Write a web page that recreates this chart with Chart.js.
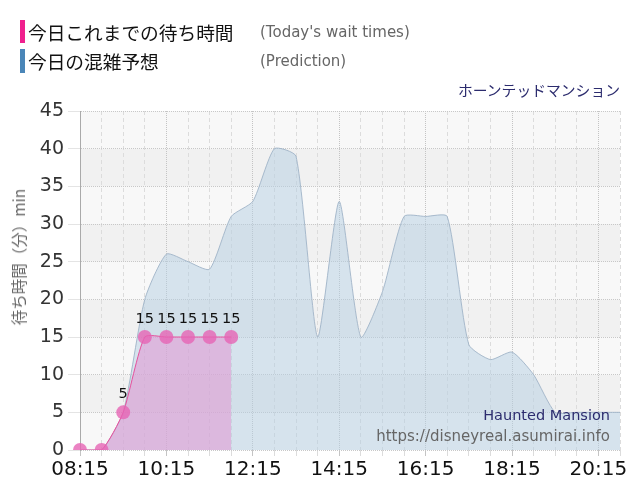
<!DOCTYPE html>
<html>
<head>
<meta charset="utf-8">
<script src="https://cdn.jsdelivr.net/npm/chart.js@4/dist/chart.umd.min.js"></script>
<style>
  body { margin: 0; background: #fff; }
  #wrap { position: relative; width: 640px; height: 500px; overflow: hidden; }
  #wrap canvas { position: absolute; left: 0; top: 0; }
  .bar { position: absolute; width: 5px; }
  .jp { position: absolute; font-family: "Noto Sans CJK JP", sans-serif; white-space: nowrap; }
  .en { position: absolute; font-family: "DejaVu Sans", sans-serif; white-space: nowrap; }
</style>
</head>
<body>
<div id="wrap">
  <canvas id="chart" width="640" height="500"></canvas>
  <div class="bar" style="left:20px;top:20px;height:23px;background:#f0208e"></div>
  <div class="jp" style="left:28px;top:19px;font-size:18.7px;line-height:26px;color:#111">今日これまでの待ち時間</div>
  <div class="en" style="left:260px;top:22px;font-size:15px;line-height:20px;color:#666">(Today's wait times)</div>
  <div class="bar" style="left:20px;top:49px;height:24px;background:#4a86b8"></div>
  <div class="jp" style="left:28px;top:48px;font-size:18.7px;line-height:26px;color:#111">今日の混雑予想</div>
  <div class="en" style="left:260px;top:51px;font-size:15px;line-height:20px;color:#666">(Prediction)</div>
  <div class="jp" style="right:20px;top:80px;font-size:14.8px;line-height:20px;color:#2c2c6e">ホーンテッドマンション</div>
  <div class="jp" style="left:18px;top:257px;font-size:15.5px;line-height:20px;color:#666;transform:translate(-50%,-50%) rotate(-90deg)">待ち時間（分）min</div>
  <div class="en" style="right:30px;top:405px;font-size:14.5px;line-height:20px;color:#2c2c6e">Haunted Mansion</div>
  <div class="en" style="right:30px;top:426px;font-size:15px;line-height:20px;color:#666">https://disneyreal.asumirai.info</div>
</div>
<script>
const times = ["08:15","08:45","09:15","09:45","10:15","10:45","11:15","11:45",
  "12:15","12:45","13:15","13:45","14:15","14:45","15:15","15:45","16:15","16:45",
  "17:15","17:45","18:15","18:45","19:15","19:45","20:15","20:45"];
const tickLabels = ["08:15","10:15","12:15","14:15","16:15","18:15","20:15"];
const waitTimes = [0, 0, 5, 15, 15, 15, 15, 15];
const prediction = [0, 0, 5, 20, 26, 25, 24, 31, 33, 40, 39, 15, 33, 15, 21, 31, 31, 31,
  14, 12, 13, 10, 5, 5, 5, 5];

// alternating background bands behind the grid
const bands = {
  id: "bands",
  beforeDraw(chart) {
    const { ctx, chartArea: a, scales: { y } } = chart;
    ctx.save();
    for (let v = 0; v < 45; v += 5) {
      const top = y.getPixelForValue(v + 5), bot = y.getPixelForValue(v);
      ctx.fillStyle = (v / 5) % 2 === 0 ? "#f8f8f8" : "#f1f1f1";
      ctx.fillRect(a.left, top, a.right - a.left, bot - top);
    }
    ctx.restore();
  }
};

// value labels above the wait time points
const pointLabels = {
  id: "pointLabels",
  afterDatasetsDraw(chart) {
    const ctx = chart.ctx;
    const meta = chart.getDatasetMeta(0);
    ctx.save();
    ctx.font = "14.5px 'DejaVu Sans'";
    ctx.fillStyle = "#111";
    ctx.textAlign = "center";
    ctx.textBaseline = "middle";
    meta.data.forEach((pt, i) => {
      const v = waitTimes[i];
      if (v > 0) ctx.fillText(String(v), pt.x, pt.y - 18);
    });
    ctx.restore();
  }
};

new Chart(document.getElementById("chart"), {
  type: "line",
  data: {
    labels: times,
    datasets: [
      {
        data: waitTimes,
        order: 0,
        borderColor: "#e6509c",
        borderWidth: 1,
        backgroundColor: "rgba(225,150,210,0.55)",
        fill: "origin",
        tension: 0.2,
        pointRadius: 7,
        pointBackgroundColor: "rgba(230,100,180,0.8)",
        pointBorderWidth: 0
      },
      {
        data: prediction,
        order: 1,
        borderColor: "rgba(160,180,200,0.9)",
        borderWidth: 1,
        backgroundColor: "rgba(180,205,225,0.5)",
        fill: "origin",
        tension: 0.2,
        pointRadius: 0
      }
    ]
  },
  options: {
    responsive: false,
    animation: false,
    events: [],
    layout: { padding: { top: 111, right: 20, left: 0, bottom: 0 } },
    plugins: { legend: { display: false }, tooltip: { enabled: false } },
    scales: {
      x: {
        offset: false,
        afterFit: (s) => { s.height = 50; },
        border: {
          display: false,
          dash: (c) => tickLabels.includes(times[c.index]) ? [1, 1] : [4, 3]
        },
        grid: {
          color: (c) => tickLabels.includes(times[c.index]) ? "#c4c4c4" : "#dcdcdc",
          tickLength: 6
        },
        ticks: {
          autoSkip: false,
          maxRotation: 0,
          padding: 2,
          color: "#111",
          font: { family: "DejaVu Sans", size: 20 },
          callback: (v, i) => tickLabels.includes(times[i]) ? times[i] : ""
        }
      },
      y: {
        min: 0,
        max: 45,
        afterFit: (s) => { s.width = 80; },
        border: { display: true, color: "#aaa", dash: [1, 1] },
        grid: { color: "#c8c8c8", tickLength: 12, tickColor: "#e4e4e4" },
        ticks: {
          stepSize: 5,
          padding: 4,
          color: "#333",
          font: { family: "DejaVu Sans", size: 19 }
        }
      }
    }
  },
  plugins: [bands, pointLabels]
});
</script>
</body>
</html>
